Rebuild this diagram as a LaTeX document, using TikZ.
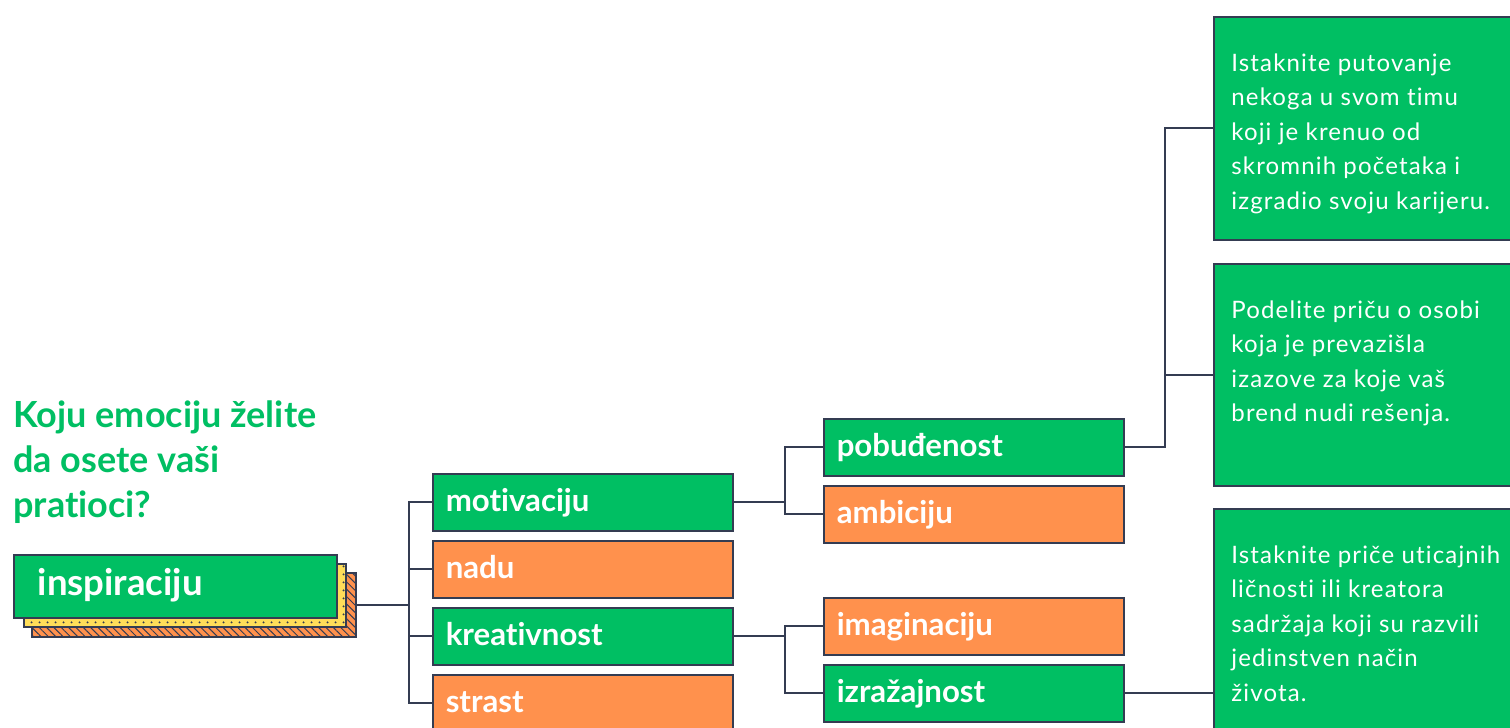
\documentclass[tikz,border=0pt]{standalone}
\usepackage{fontspec}
\setmainfont{Lato}[Ligatures = NoCommon]
\newfontfamily\tipfont[LetterSpace = 4.8, Ligatures = NoCommon]{Lato}
\usepackage{xcolor}
\usetikzlibrary{positioning,calc,patterns.meta}
\definecolor{emogreen}{RGB}{0,191,99}
\definecolor{emoorange}{RGB}{255,145,77}
\definecolor{emoyellow}{RGB}{255,222,89}
\definecolor{emoline}{RGB}{52,60,82}

\begin{document}
\begin{tikzpicture}[x = .5pt, y = -.5pt,
    box/.style = {draw = emoline, line width = .75pt, anchor = north west, inner sep = 0pt},
    emo/.style = {box, text = white, font = \fontsize{15.6}{18}\selectfont\bfseries, align = left,
        text width = 137pt, inner xsep = 6.5pt, text height = 18.75pt, text depth = 9.75pt},
    emog/.style = {emo, fill = emogreen},
    emoo/.style = {emo, fill = emoorange},
    tip/.style = {box, fill = emogreen, minimum width = 160pt},
    tiptext/.style = {anchor = north west, text = white, align = left, inner sep = 0pt,
        font = \tipfont\fontsize{12}{17.25}\selectfont},
    link/.style = {draw = emoline, line width = 1pt}]
    \clip (0,0) rectangle (1510,728);

    % question
    \node[anchor = base west, inner sep = 0pt, align = left, text = emogreen,
        font = \fontsize{18}{22.5}\selectfont\bfseries] (title) at (13,517)
        {Koju emociju želite\\da osete vaši\\pratioci?};

    % stacked root
    \node[box, fill = emoorange, minimum width = 162pt, minimum height = 32pt,
        postaction = {pattern = {Lines[angle = -45, distance = 2.6pt, line width = .5pt]}, pattern color = emoline}]
        (inspO) at (31,572) {};
    \node[box, fill = emoyellow, minimum width = 161pt, minimum height = 31.5pt,
        postaction = {pattern = {Dots[distance = 4pt, radius = .6pt, yshift = 1pt]}, pattern color = emoline}]
        (inspY) at (23,563) {};
    \node[box, fill = emogreen, text = white, font = \fontsize{18.3}{21}\selectfont\bfseries, align = left,
        text width = 137.5pt, inner xsep = 12pt, text height = 20.5pt, text depth = 11pt]
        (insp) at (13,554) {inspiraciju};

    % first level
    \node[emog] (mot) at (432,473) {motivaciju};
    \node[emoo] (nadu) at (432,540) {nadu};
    \node[emog] (kre) at (432,607) {kreativnost};
    \node[emoo] (strast) at (432,674) {strast};

    % second level
    \node[emog] (pob) at (823,418) {pobuđenost};
    \node[emoo] (amb) at (823,485) {ambiciju};
    \node[emoo] (imag) at (823,597) {imaginaciju};
    \node[emog] (izr) at (823,664) {izražajnost};

    % ideas
    \node[tip, minimum height = 111.5pt] (tip1) at (1213,16) {};
    \node[tip, minimum height = 111pt] (tip2) at (1213,263) {};
    \node[tip, minimum height = 125pt] (tip3) at (1213,508) {};
    \node[tiptext] (tip1txt) at ([shift = {(18,37)}]tip1.north west)
        {Istaknite putovanje\\nekoga u svom timu\\koji je krenuo od\\skromnih početaka i\\izgradio svoju karijeru.};
    \node[tiptext] (tip2txt) at ([shift = {(18,37)}]tip2.north west)
        {Podelite priču o osobi\\koja je prevazišla\\izazove za koje vaš\\brend nudi rešenja.};
    \node[tiptext] (tip3txt) at ([shift = {(18,37)}]tip3.north west)
        {Istaknite priče uticajnih\\ličnosti ili kreatora\\sadržaja koji su razvili\\jedinstven način\\života.};

    % connectors
    \foreach \n in {mot, nadu, kre, strast}
        \draw[link] (inspO.east) -- ++(52,0) |- (\n.west);
    \foreach \n in {pob, amb}
        \draw[link] (mot.east) -- ++(51,0) |- (\n.west);
    \foreach \n in {imag, izr}
        \draw[link] (kre.east) -- ++(51,0) |- (\n.west);
    \foreach \n in {tip1, tip2}
        \draw[link] (pob.east) -- ++(40,0) |- (\n.west);
    \draw[link] (izr.east) -- (izr.east -| tip3.west);
\end{tikzpicture}
\end{document}
